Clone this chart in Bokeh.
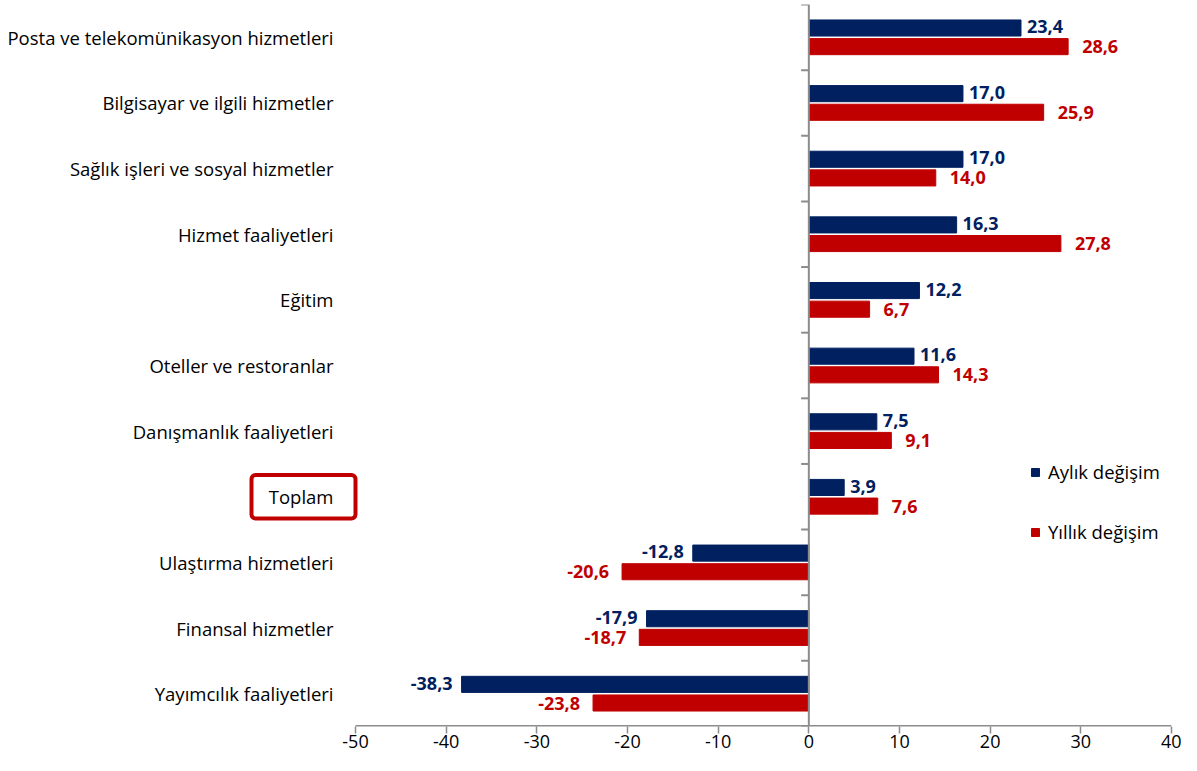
from bokeh.plotting import figure
from bokeh.models import (ColumnDataSource, FactorRange, Range1d, Span, BoxAnnotation,
                          Legend, LegendItem, FixedTicker)
from bokeh.transform import dodge
from bokeh.core.properties import value
from bokeh.embed import file_html
from bokeh.resources import INLINE

categories = ["Posta ve telekomünikasyon hizmetleri", "Bilgisayar ve ilgili hizmetler",
              "Sağlık işleri ve sosyal hizmetler", "Hizmet faaliyetleri", "Eğitim",
              "Oteller ve restoranlar", "Danışmanlık faaliyetleri", "Toplam",
              "Ulaştırma hizmetleri", "Finansal hizmetler", "Yayımcılık faaliyetleri"]
aylik = [23.4, 17.0, 17.0, 16.3, 12.2, 11.6, 7.5, 3.9, -12.8, -17.9, -38.3]
yillik = [28.6, 25.9, 14.0, 27.8, 6.7, 14.3, 9.1, 7.6, -20.6, -18.7, -23.8]
series_names = ["Aylık değişim", "Yıllık değişim"]
x_ticks = [-50, -40, -30, -20, -10, 0, 10, 20, 30, 40]
highlight = "Toplam"

BLUE = "#002060"
RED = "#C00000"
AXIS = "#8C8C8C"
FONT = "Open Sans"
LBL_SIZE = "18.5px"

# layout: plot area for values spans 816 px, category label column 355 px to its left
W, H = 1181, 755
LABEL_COL = 355
VAL_W = 816
px = VAL_W / (x_ticks[-1] - x_ticks[0])
x_lo = x_ticks[0] - LABEL_COL / px

def fmt(v):
    return f"{v:.1f}".replace(".", ",")

src = ColumnDataSource(dict(
    cat=categories,
    a=aylik, y=yillik,
    a_lbl=[fmt(v) for v in aylik], y_lbl=[fmt(v) for v in yillik],
    a_align=["left" if v >= 0 else "right" for v in aylik],
    y_align=["left" if v >= 0 else "right" for v in yillik],
    a_off=[6 if v >= 0 else -9 for v in aylik],
    y_off=[14 if v >= 0 else -13 for v in yillik],
    lab_x=[x_ticks[0]] * len(categories),
))

factors = list(reversed(categories))
p = figure(width=W, height=H, y_range=FactorRange(factors=factors, range_padding=0),
           x_range=Range1d(x_lo, x_ticks[-1]), output_backend="svg", toolbar_location=None,
           min_border_left=0, min_border_right=W - LABEL_COL - VAL_W,
           min_border_top=4, min_border_bottom=29)
p.outline_line_color = None
p.xgrid.visible = False
p.ygrid.visible = False
p.yaxis.visible = False

bh = 0.245
off = 0.142
rb = p.hbar(y=dodge("cat", off, range=p.y_range), right="a", left=0, height=bh,
            source=src, fill_color=BLUE, line_color=BLUE)
rr = p.hbar(y=dodge("cat", -off, range=p.y_range), right="y", left=0, height=bh,
            source=src, fill_color=RED, line_color=RED)

p.text(x="a", y=dodge("cat", off + 0.02, range=p.y_range), text="a_lbl", source=src,
       text_align="a_align", x_offset="a_off", text_baseline="middle",
       text_font=value(FONT), text_font_style="bold", text_font_size="18px", text_color=BLUE)
p.text(x="y", y=dodge("cat", -off, range=p.y_range), text="y_lbl", source=src,
       text_align="y_align", x_offset="y_off", text_baseline="middle",
       text_font=value(FONT), text_font_style="bold", text_font_size="18px", text_color=RED)

# category labels
p.text(x="lab_x", y="cat", text="cat", source=src, x_offset=-22,
       text_align="right", text_baseline="middle",
       text_font=value(FONT), text_font_size=LBL_SIZE, text_color="#000000")

# vertical zero axis with category boundary ticks
p.add_layout(Span(location=0, dimension="height", line_color=AXIS, line_width=2))
bounds = list(range(len(categories) + 1))
p.segment(x0=[0] * len(bounds), x1=[-0.85] * len(bounds), y0=bounds, y1=bounds,
          line_color=AXIS, line_width=2)

# bottom axis line only over the value range
p.segment(x0=[x_ticks[0]], x1=[x_ticks[-1]], y0=[0], y1=[0], line_color=AXIS, line_width=3)

xa = p.xaxis[0]
xa.ticker = FixedTicker(ticks=x_ticks)
xa.major_label_overrides = {t: str(t) for t in x_ticks}
xa.axis_line_color = None
xa.major_tick_line_color = AXIS
xa.major_tick_line_width = 1.5
xa.major_tick_out = 7
xa.major_tick_in = 0
xa.minor_tick_line_color = None
xa.major_label_text_font = FONT
xa.major_label_text_font_size = "18px"
xa.major_label_text_color = "#000000"
xa.major_label_standoff = 1

# rounded red frame around "Toplam"
idx = factors.index(highlight)
p.add_layout(BoxAnnotation(left=x_ticks[0] - 104 / px, right=x_ticks[0],
                           bottom=idx + 0.5 - 0.33, top=idx + 0.5 + 0.33,
                           fill_alpha=0, line_color=RED, line_alpha=1, line_width=4,
                           border_radius=4))

legend = Legend(items=[LegendItem(label=series_names[0], renderers=[rb]),
                       LegendItem(label=series_names[1], renderers=[rr])],
                location=(1030, 182), orientation="vertical",
                glyph_width=10, glyph_height=10, label_height=20, spacing=35,
                label_standoff=8, padding=0, margin=0,
                label_text_font=FONT, label_text_font_size=LBL_SIZE, label_text_color="#000000",
                border_line_color=None, background_fill_alpha=0)
p.add_layout(legend)

open("out.html", "w").write(file_html(p, INLINE))
